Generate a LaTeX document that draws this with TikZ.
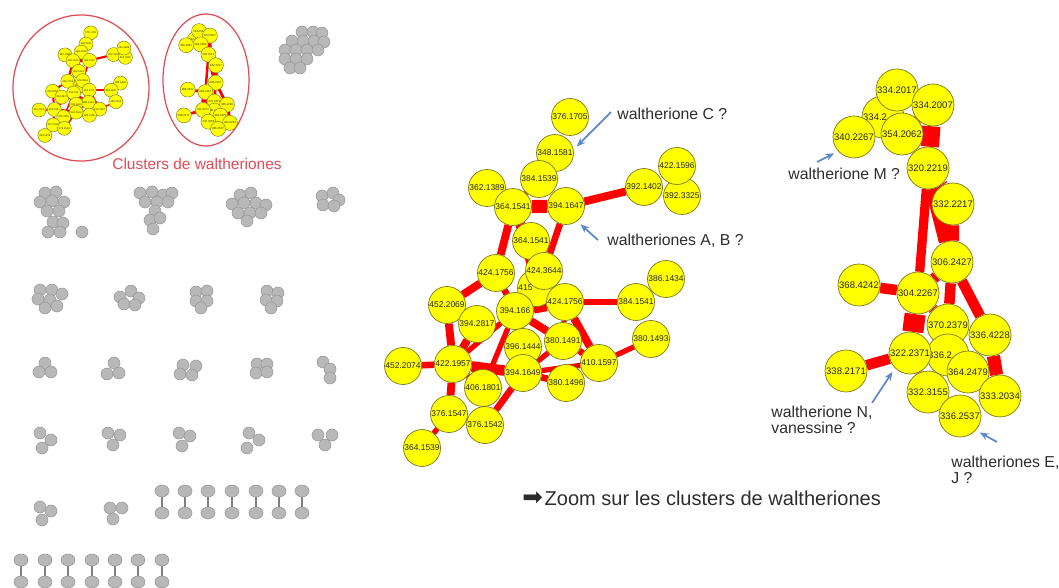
\documentclass[tikz,border=0pt]{standalone}
\usepackage{fontspec}
\setmainfont{Liberation Sans}
\newfontfamily\symfont{DejaVu Sans}
\usetikzlibrary{arrows.meta, backgrounds}

\definecolor{nodeyellow}{RGB}{255,255,0}
\definecolor{nodeline}{RGB}{120,120,30}
\definecolor{ptrblue}{RGB}{95,135,205}
\definecolor{ringred}{RGB}{225,75,85}
\definecolor{notegray}{RGB}{45,45,45}

% width of one pixel of edge
\newcommand{\ewf}{0.75pt}

% middle cluster (waltheriones A, B, C)
\newcommand{\midnet}[1]{
  \foreach \n/\x/\y/\t in {1/570/117/376.1705, 2/555/153/348.1581, 3/539/179/384.1539,
      4/487/188/362.1389, 5/513/207/364.1541, 6/566/206/394.1647, 7/644/187/392.1402,
      9/682/196/392.3325, 8/677/166/422.1596, 10/531/241/364.1541, 11/496/273/424.1756,
      12/536/288/{415\phantom{.0000}}, 13/544/271/424.3644, 14/666/279/386.1434,
      15/447/305/452.2069, 16/477/324/394.2817, 17/515/311/394.166, 18/565/302/424.1756,
      19/636/302/384.1541, 20/651/339/380.1493, 21/563/341/380.1491, 22/523/347/396.1444,
      23/599/363/410.1597, 24/453/364/422.1957, 25/403/366/452.2074, 26/523/373/394.1649,
      27/566/383/380.1496, 28/483/388/406.1801, 29/449/414/376.1547, 30/485/425/376.1542,
      31/422/448/364.1539}
    \node[ynode] (#1m\n) at (\x,\y) {\t};
  \begin{scope}[on background layer]
    \foreach \a/\b/\w in {5/6/10, 6/7/6, 5/11/6, 5/12/4, 5/10/5, 6/13/5, 3/5/4,
        11/15/6, 11/17/5, 12/17/4, 17/18/9, 18/19/5, 18/23/6, 18/21/4,
        17/21/6, 17/22/5, 17/24/4, 17/28/4, 15/24/6, 16/24/6,
        24/25/5, 24/26/8, 24/28/5, 24/29/6, 29/31/4, 29/30/4,
        26/30/5, 26/27/5, 26/23/4, 21/26/4, 21/23/5, 23/20/4}
      \draw[redge=\w] (#1m\a) -- (#1m\b);
  \end{scope}
}

% right cluster (waltheriones E, J, M, N)
\newcommand{\rightnet}[1]{
  \foreach \n/\x/\y/\t in {2/883/117/{334.2\phantom{017}}, 1/897/90/334.2017,
      5/933/105/334.2007, 3/854/137/340.2267, 4/902/134/354.2062, 6/928/168/320.2219,
      7/953/204/332.2217, 8/952/262/306.2427, 9/859/285/368.4242, 10/918/293/304.2267,
      11/948/325/370.2379, 12/990/335/336.4228, 14/948/355/{336.2\phantom{379}},
      13/910/353/322.2371, 15/968/372/364.2479, 16/846/371/338.2171,
      17/928/392/332.3155, 18/1000/396/333.2034, 19/960/416/336.2537}
    \node[rnode] (#1r\n) at (\x,\y) {\t};
  \begin{scope}[on background layer]
    \foreach \a/\b/\w in {5/4/8, 5/6/14, 6/7/12, 6/10/7, 6/8/12, 7/8/10, 8/10/8,
        8/11/8, 8/12/8, 9/10/8, 10/13/16, 10/11/8, 13/16/8, 12/18/10,
        13/17/6, 13/15/6, 17/19/6, 15/18/6, 11/15/5}
      \draw[redge=\w] (#1r\a) -- (#1r\b);
  \end{scope}
}

\begin{document}
\begin{tikzpicture}[
    x=0.02cm, y=-0.02cm,
    ynode/.style={circle, draw=nodeline, line width=0.4pt, fill=nodeyellow,
      inner sep=0pt, minimum size=0.74cm, text=black!85,
      font=\fontsize{4.8}{5}\selectfont},
    rnode/.style={ynode, minimum size=0.84cm, font=\fontsize{5.4}{6}\selectfont},
    redge/.style={draw=red, line width=#1*\ewf},
    note/.style={text=notegray, font=\fontsize{9}{8.8}\selectfont, align=left, anchor=west, inner sep=0pt},
    blueptr/.style={draw=ptrblue, line width=1pt, -{Stealth[length=5pt, width=4pt]}, shorten >=0.09cm},
    ring/.style={draw=ringred, line width=0.7pt},
    gdot/.style={fill=black!28, draw=black!42, line width=0.3pt},
    dumbbar/.style={draw=black!50, line width=1.2pt}
]
\useasboundingbox (0,0) rectangle (1059,588);

% zoomed clusters
\midnet{}
\rightnet{}

% miniatures inside the red rings
\begin{scope}[shift={(-86,-3.4)}, scale=0.31, transform shape,
    ynode/.append style={minimum size=0.9cm, line width=0.25pt}]
  \renewcommand{\ewf}{0.2pt}
  \midnet{s}
\end{scope}
\begin{scope}[shift={(-70,4.1)}, scale=0.3, transform shape,
    rnode/.append style={minimum size=1cm, line width=0.25pt}]
  \renewcommand{\ewf}{0.2pt}
  \rightnet{s}
\end{scope}
\draw[ring] (81,88) ellipse [x radius=68, y radius=73];
\draw[ring] (206,80) ellipse [x radius=43, y radius=66];
\node[text=ringred, font=\fontsize{8.8}{10}\selectfont] (ringlabel) at (197,164) {Clusters de waltheriones};

% grey clusters
\foreach \x/\y in {302/32, 313/32, 322/33, 292/41, 303/41, 314/41, 324/42,
    285/50, 296/50, 307/50, 318/50, 285/59, 296/59, 307/59, 290/68, 300/68,
    45/193, 56/192, 40/202, 52/201, 64/202, 47/211, 59/211, 53/222, 63/223,
    48/232, 60/232, 82/232,
    140/193, 152/192, 163/195, 172/193, 145/202, 157/202, 168/202, 155/211,
    150/220, 160/218, 153/229,
    240/195, 251/193, 232/204, 244/203, 256/203, 266/205, 238/213, 250/213,
    261/213, 247/221,
    322/196, 333/193, 339/200, 323/205, 334/206,
    40/290, 52/290, 62/294, 38/299, 50/300, 45/308, 57/306,
    120/297, 131/291, 139/298, 124/304, 135/305,
    196/292, 207/291, 196/301, 207/301, 201/308,
    267/291, 278/293, 266/300, 277/301, 271/308,
    45/363, 39/372, 51/372, 114/363, 107/374, 119/373,
    183/365, 196/366, 180/374, 192/375, 257/364, 267/364, 256/373, 267/372,
    323/362, 330/369, 330/378,
    40/433, 51/440, 42/448, 108/433, 120/435, 113/445, 179/433, 190/436, 182/446,
    249/433, 259/440, 247/448, 318/435, 332/435, 325/445,
    40/507, 51/511, 42/520, 110/508, 122/508, 113/519}
  \filldraw[gdot] (\x,\y) circle [radius=6];

% pairs
\foreach \x/\y in {162/491, 185/491, 208/491, 232/491, 256/491, 279/491, 302/491,
    21/560, 45/560, 68/560, 92/560, 115/560, 138/560, 162/560} {
  \draw[dumbbar] (\x,\y) -- (\x,\y+22);
  \filldraw[gdot] (\x,\y) ellipse [x radius=7, y radius=6];
  \filldraw[gdot] (\x,\y+22) ellipse [x radius=7, y radius=6];
}

% notes
\node[note] (noteC) at (617,114) {waltherione C ?};
\node[note] (noteAB) at (607,241) {waltheriones A, B ?};
\node[note] (noteM) at (788,174) {waltherione M ?};
\node[note] (noteN) at (771,420) {waltherione N,\\vanessine ?};
\node[note] (noteEJ) at (951,470) {waltheriones E,\\J ?};
\coordinate (tailC) at (611,112);
\coordinate (tailAB) at (598,240);
\coordinate (tailM) at (817,162);
\coordinate (tailN) at (872,403);
\coordinate (tailEJ) at (997,442);
\draw[blueptr] (tailC) -- (m2.10);
\draw[blueptr] (tailAB) -- (m6.-54);
\draw[blueptr] (tailM) -- (r3.-138);
\draw[blueptr] (tailN) -- (r13.225);
\draw[blueptr] (tailEJ) -- (r19.-42);

\node[text=notegray, font=\fontsize{11.4}{13}\selectfont, anchor=west, inner sep=0pt] (zoomtext) at (522,498)
  {{\symfont\fontsize{14}{14}\selectfont ➡}\hspace{1pt}Zoom sur les clusters de waltheriones};

\end{tikzpicture}
\end{document}
